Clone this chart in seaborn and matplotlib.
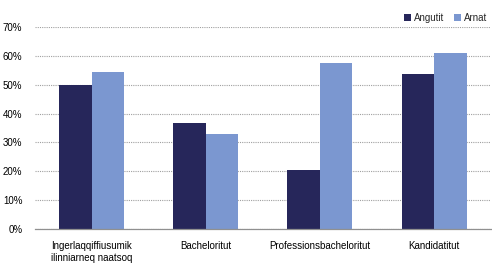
import matplotlib
matplotlib.use("Agg")
import matplotlib.pyplot as plt
import seaborn as sns
import pandas as pd
from matplotlib.ticker import PercentFormatter

categories = ["Ingerlaqqiffiusumik\nilinniarneq naatsoq", "Bacheloritut",
              "Professionsbacheloritut", "Kandidatitut"]
angutit = [0.498, 0.367, 0.204, 0.536]
arnat = [0.543, 0.328, 0.577, 0.610]
series = ["Angutit", "Arnat"]

df = pd.DataFrame({
    "cat": categories * 2,
    "val": angutit + arnat,
    "ser": [series[0]] * 4 + [series[1]] * 4,
})

sns.set_theme(style="white")
plt.rcParams['font.family'] = ['Liberation Sans', 'DejaVu Sans']

fig = plt.figure(figsize=(4.92, 2.65), dpi=100)
ax = fig.add_axes([0.071, 0.136, 0.927, 0.762])

colors = ["#26265a", "#7b97d0"]
sns.barplot(data=df, x="cat", y="val", hue="ser", palette=colors, ax=ax,
            width=0.57, saturation=1, legend=True, linewidth=0, gap=0)

ax.set_ylim(0, 0.7)
ax.set_yticks([i / 10 for i in range(8)])
ax.yaxis.set_major_formatter(PercentFormatter(1.0, decimals=0))
ax.set_xlabel("")
ax.set_ylabel("")
ax.set_xlim(-0.5, 3.5)
ax.grid(axis="y", linestyle=(0, (1, 1)), color="#a0a0a0", linewidth=0.8)
ax.set_axisbelow(True)
for s in ["left", "right", "top"]:
    ax.spines[s].set_visible(False)
ax.spines["bottom"].set_color("#909090")
ax.spines["bottom"].set_linewidth(0.9)
ax.tick_params(axis="both", length=0, labelsize=7, colors="#000000")
ax.tick_params(axis="x", pad=9)
ax.tick_params(axis="y", pad=9)

leg = ax.legend(loc="upper right", bbox_to_anchor=(1.0, 1.09), ncol=2,
                frameon=False, fontsize=7, handlelength=0.7, handleheight=0.7,
                handletextpad=0.3, columnspacing=1.0, borderaxespad=0)

fig.savefig("out.png", dpi=100)
